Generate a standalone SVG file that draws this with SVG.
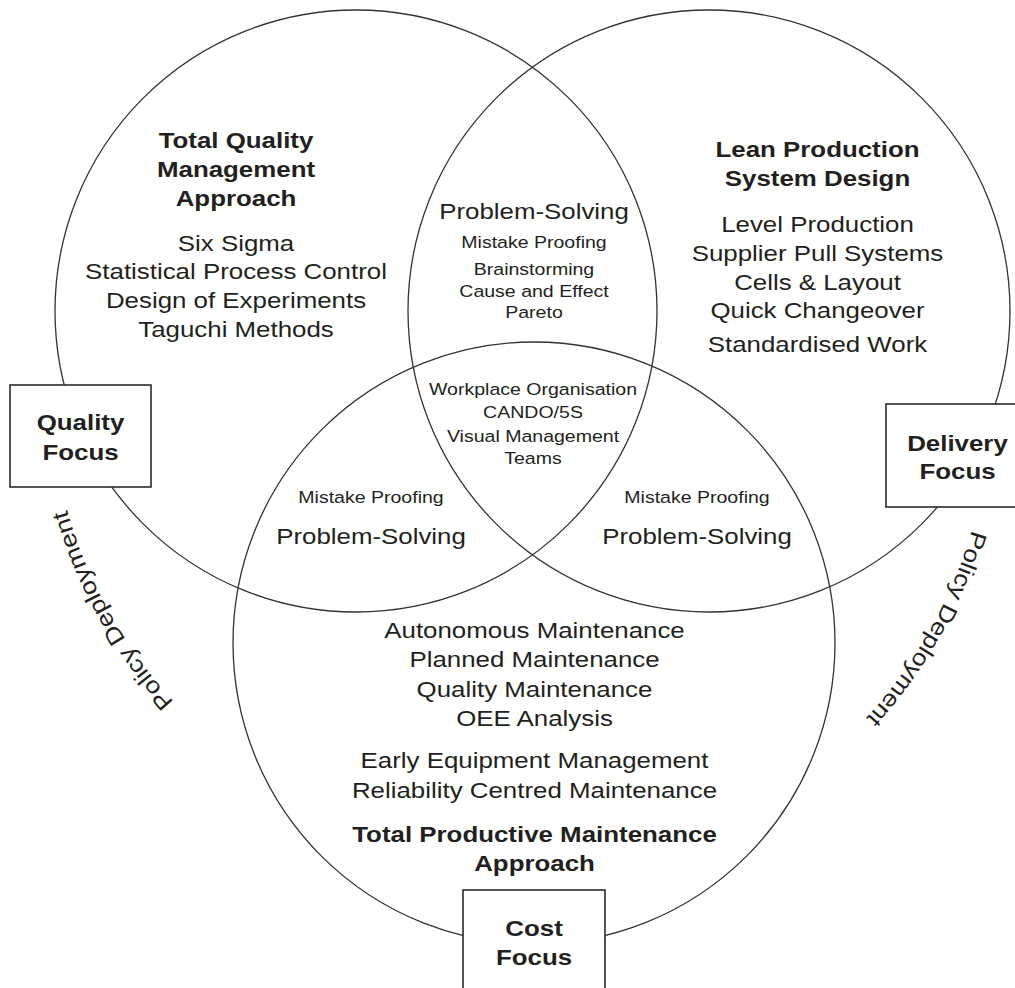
<svg xmlns="http://www.w3.org/2000/svg" width="1015" height="988" viewBox="0 0 1015 988">
  <style>
    .ring { fill: none; stroke: #333; stroke-width: 1.3; }
    .box { fill: #fff; stroke: #2a2a2a; stroke-width: 1.6; }
    text { font-family: "Liberation Sans", Arial, Helvetica, sans-serif; fill: #231f20; text-anchor: middle; }
    .h { font-size: 22.5px; font-weight: bold; }
    .m { font-size: 22.5px; }
    .s { font-size: 17px; }
    .pd { font-size: 23px; text-anchor: start; }
  </style>
  <defs>
    <!-- arcs carrying the "Policy Deployment" captions -->
    <path id="arcLeft" d="M174,702 A480,480 0 0 1 67,510"/>
    <path id="arcRight" d="M972,530 A480,480 0 0 1 866,718"/>
  </defs>

  <!-- the three overlapping focus areas -->
  <g id="circles">
    <circle id="circle-quality" class="ring" cx="356" cy="311" r="301"/>
    <circle id="circle-delivery" class="ring" cx="709" cy="311" r="301"/>
    <circle id="circle-cost" class="ring" cx="534" cy="643" r="301"/>
  </g>

  <g id="connectors"/>

  <!-- Quality circle contents -->
  <g id="tqm" transform="translate(236 0) scale(1.15 1)">
    <text class="h" x="0" y="148">Total Quality</text>
    <text class="h" x="0" y="177">Management</text>
    <text class="h" x="0" y="206">Approach</text>
    <text class="m" x="0" y="251">Six Sigma</text>
    <text class="m" x="0" y="279.5">Statistical Process Control</text>
    <text class="m" x="0" y="308.5">Design of Experiments</text>
    <text class="m" x="0" y="337.5">Taguchi Methods</text>
  </g>

  <!-- Quality / Delivery overlap -->
  <g id="quality-delivery" transform="translate(534 0) scale(1.15 1)">
    <text class="m" x="0" y="219.5">Problem-Solving</text>
    <text class="s" x="0" y="248">Mistake Proofing</text>
    <text class="s" x="0" y="275">Brainstorming</text>
    <text class="s" x="0" y="297">Cause and Effect</text>
    <text class="s" x="0" y="318.5">Pareto</text>
  </g>

  <!-- Delivery circle contents -->
  <g id="lean" transform="translate(817.5 0) scale(1.15 1)">
    <text class="h" x="0" y="157">Lean Production</text>
    <text class="h" x="0" y="186">System Design</text>
    <text class="m" x="0" y="232">Level Production</text>
    <text class="m" x="0" y="261">Supplier Pull Systems</text>
    <text class="m" x="0" y="290">Cells &amp; Layout</text>
    <text class="m" x="0" y="318.5">Quick Changeover</text>
    <text class="m" x="0" y="352">Standardised Work</text>
  </g>

  <!-- common centre of all three -->
  <g id="core" transform="translate(533 0) scale(1.15 1)">
    <text class="s" x="0" y="395">Workplace Organisation</text>
    <text class="s" x="0" y="418.5">CANDO/5S</text>
    <text class="s" x="0" y="442">Visual Management</text>
    <text class="s" x="0" y="464.5">Teams</text>
  </g>

  <!-- Quality / Cost overlap -->
  <g id="quality-cost" transform="translate(371 0) scale(1.15 1)">
    <text class="s" x="0" y="503">Mistake Proofing</text>
    <text class="m" x="0" y="544.5">Problem-Solving</text>
  </g>

  <!-- Delivery / Cost overlap -->
  <g id="delivery-cost" transform="translate(697 0) scale(1.15 1)">
    <text class="s" x="0" y="503">Mistake Proofing</text>
    <text class="m" x="0" y="544.5">Problem-Solving</text>
  </g>

  <!-- Cost circle contents -->
  <g id="tpm" transform="translate(534.5 0) scale(1.15 1)">
    <text class="m" x="0" y="638.5">Autonomous Maintenance</text>
    <text class="m" x="0" y="667.5">Planned Maintenance</text>
    <text class="m" x="0" y="697">Quality Maintenance</text>
    <text class="m" x="0" y="726.5">OEE Analysis</text>
    <text class="m" x="0" y="768.5">Early Equipment Management</text>
    <text class="m" x="0" y="798.5">Reliability Centred Maintenance</text>
    <text class="h" x="0" y="842.5">Total Productive Maintenance</text>
    <text class="h" x="0" y="871.5">Approach</text>
  </g>

  <!-- focus labels -->
  <g id="quality-focus">
    <rect class="box" x="10" y="385" width="141" height="102"/>
    <g transform="translate(80.5 0) scale(1.15 1)">
      <text class="h" x="0" y="430">Quality</text>
      <text class="h" x="0" y="460">Focus</text>
    </g>
  </g>
  <g id="delivery-focus">
    <rect class="box" x="886" y="404" width="142" height="103"/>
    <g transform="translate(957.5 0) scale(1.15 1)">
      <text class="h" x="0" y="451.5">Delivery</text>
      <text class="h" x="0" y="479.5">Focus</text>
    </g>
  </g>
  <g id="cost-focus">
    <rect class="box" x="463" y="890" width="142" height="110"/>
    <g transform="translate(534 0) scale(1.15 1)">
      <text class="h" x="0" y="936.5">Cost</text>
      <text class="h" x="0" y="965">Focus</text>
    </g>
  </g>

  <!-- policy deployment captions -->
  <g id="policy-left">
    <text class="pd"><textPath href="#arcLeft" textLength="222" lengthAdjust="spacingAndGlyphs">Policy Deployment</textPath></text>
  </g>
  <g id="policy-right">
    <text class="pd"><textPath href="#arcRight" textLength="218" lengthAdjust="spacingAndGlyphs">Policy Deployment</textPath></text>
  </g>
</svg>
